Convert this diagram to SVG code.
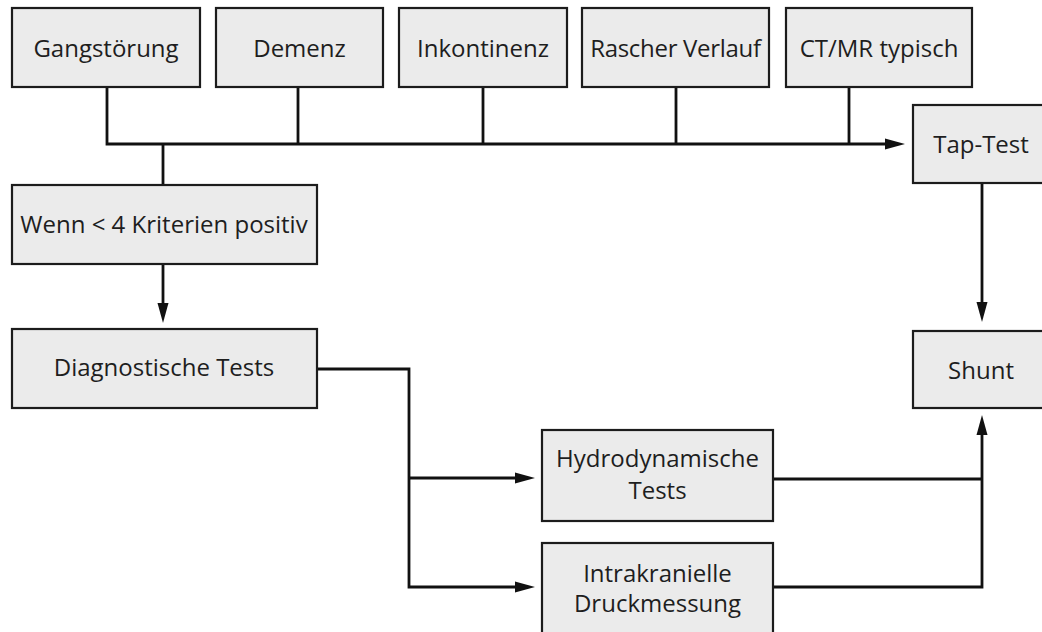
<svg xmlns="http://www.w3.org/2000/svg" width="1042" height="632" viewBox="0 0 1042 632">
<style>
.box{fill:#ebebeb;stroke:#1c1c1c;stroke-width:2.2}
.lbl{font-family:"Open Sans","Liberation Sans",sans-serif;font-size:24px;fill:#1e1e1e;text-anchor:middle}
.conn{fill:none;stroke:#111;stroke-width:2.8;stroke-linejoin:miter}
</style>
<defs>
<marker id="arr" markerUnits="userSpaceOnUse" markerWidth="20" markerHeight="12" refX="9" refY="6" orient="auto">
<path d="M0,0.5 L20,6 L0,11.5 z" fill="#111"/>
</marker>
</defs>
<rect width="1042" height="632" fill="#fff"/>
<g id="connectors">
<path class="conn" d="M107,87 V144 H894" marker-end="url(#arr)"/>
<path class="conn" d="M298,87 V144"/>
<path class="conn" d="M483,87 V144"/>
<path class="conn" d="M676,87 V144"/>
<path class="conn" d="M849,87 V144"/>
<path class="conn" d="M163,144 V185"/>
<path class="conn" d="M163,264 V312" marker-end="url(#arr)"/>
<path class="conn" d="M317,369 H409 V587 H524" marker-end="url(#arr)"/>
<path class="conn" d="M409,478 H524" marker-end="url(#arr)"/>
<path class="conn" d="M982,183 V311" marker-end="url(#arr)"/>
<path class="conn" d="M773,479 H982"/>
<path class="conn" d="M773,587 H982 V426" marker-end="url(#arr)"/>
</g>
<g id="gangstoerung"><rect class="box" x="12" y="8" width="188" height="79"/><text class="lbl" x="106" y="57">Gangstörung</text></g>
<g id="demenz"><rect class="box" x="216" y="8" width="167" height="79"/><text class="lbl" x="299.5" y="57">Demenz</text></g>
<g id="inkontinenz"><rect class="box" x="399" y="8" width="168" height="79"/><text class="lbl" x="483" y="57">Inkontinenz</text></g>
<g id="rascher"><rect class="box" x="582" y="8" width="187" height="79"/><text class="lbl" x="675.5" y="57" letter-spacing="-0.3">Rascher Verlauf</text></g>
<g id="ctmr"><rect class="box" x="786" y="8" width="186" height="79"/><text class="lbl" x="879" y="57">CT/MR typisch</text></g>
<g id="taptest"><rect class="box" x="913" y="105" width="140" height="78"/><text class="lbl" x="981" y="153">Tap-Test</text></g>
<g id="wenn"><rect class="box" x="12" y="185" width="305" height="79"/><text class="lbl" x="164" y="233">Wenn &lt; 4 Kriterien positiv</text></g>
<g id="diagnostische"><rect class="box" x="12" y="329" width="305" height="79"/><text class="lbl" x="164" y="376">Diagnostische Tests</text></g>
<g id="shunt"><rect class="box" x="913" y="331" width="140" height="77"/><text class="lbl" x="981" y="379">Shunt</text></g>
<g id="hydro"><rect class="box" x="542" y="430" width="231" height="91"/><text class="lbl" x="657.5" y="467">Hydrodynamische</text><text class="lbl" x="657.5" y="499">Tests</text></g>
<g id="intrakraniell"><rect class="box" x="542" y="543" width="231" height="100"/><text class="lbl" x="657.5" y="582">Intrakranielle</text><text class="lbl" x="657.5" y="612">Druckmessung</text></g>
</svg>
